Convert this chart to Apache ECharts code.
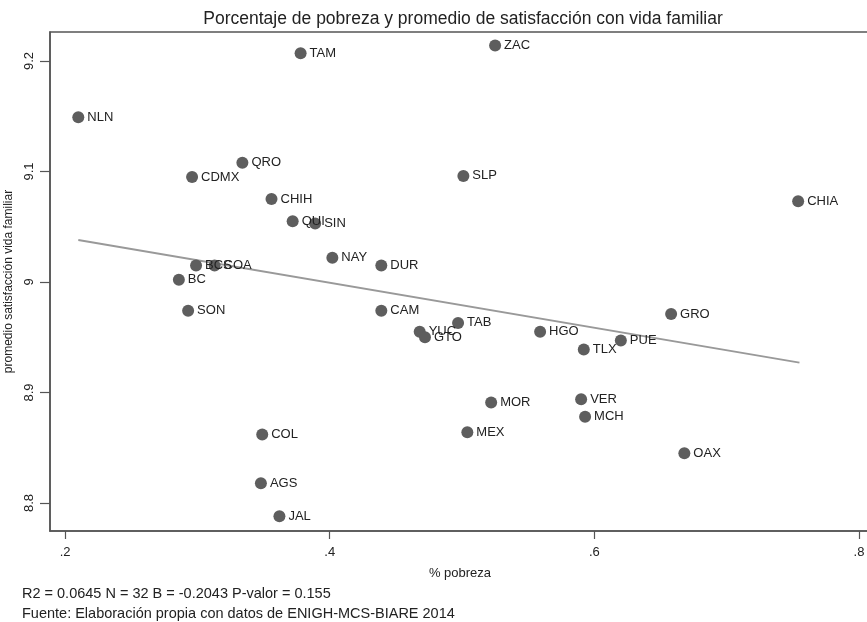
<!DOCTYPE html>
<html><head><meta charset="utf-8">
<script src="https://cdn.jsdelivr.net/npm/echarts@6/dist/echarts.min.js"></script>
<style>html,body{margin:0;padding:0;background:#fff}#c{width:867px;height:622px}</style>
</head><body><div id="c"></div>
<script>
const states = ["NLN","TAM","ZAC","QRO","CDMX","SLP","CHIH","CHIA","QUI","SIN","NAY","DUR","BCS","COA","BC","SON","CAM","YUC","GTO","TAB","HGO","GRO","PUE","TLX","VER","MCH","MOR","MEX","OAX","COL","AGS","JAL"];
const pobreza = [0.210,0.378,0.525,0.334,0.296,0.501,0.356,0.754,0.372,0.389,0.402,0.439,0.299,0.313,0.286,0.293,0.439,0.468,0.472,0.497,0.559,0.658,0.620,0.592,0.590,0.593,0.522,0.504,0.668,0.349,0.348,0.362];
const satisf  = [9.149,9.207,9.214,9.108,9.095,9.096,9.075,9.073,9.055,9.053,9.022,9.015,9.015,9.015,9.002,8.974,8.974,8.955,8.950,8.963,8.955,8.971,8.947,8.939,8.894,8.878,8.891,8.864,8.845,8.862,8.818,8.788];
const fitX = [0.210, 0.755];
const fitY = [9.038, 8.927];
const xTicks = [0.2, 0.4, 0.6, 0.8];
const yTicks = [8.8, 8.9, 9.0, 9.1, 9.2];
const title = "Porcentaje de pobreza y promedio de satisfacción con vida familiar";
const xName = "% pobreza";
const yName = "promedio satisfacción vida familiar";
const note1 = "R2 = 0.0645 N = 32 B = -0.2043 P-valor = 0.155";
const note2 = "Fuente: Elaboración propia con datos de ENIGH-MCS-BIARE 2014";

const F = "Liberation Sans, Arial, Helvetica, sans-serif";
const chart = echarts.init(document.getElementById('c'));
const pts = states.map((s,i)=>({name:s, value:[pobreza[i], satisf[i]]}));
chart.setOption({
  animation:false,
  backgroundColor:'#fff',
  title:{text:title, left:458, textAlign:'center', top:5, textStyle:{fontFamily:F, fontSize:17.5, fontWeight:'normal', color:'#222'}},
  grid:{left:50, top:32, right:-3, bottom:91, show:true, borderColor:'#555', borderWidth:1.5, outerBoundsMode:'none', containLabel:false},
  xAxis:{type:'value', min:0.18862, max:0.8083,
    name:xName, nameLocation:'middle', nameGap:36, nameTextStyle:{fontFamily:F, fontSize:13, color:'#222'},
    splitLine:{show:false},
    axisLine:{show:true, onZero:false, lineStyle:{color:'#555', width:1.5}},
    axisTick:{show:true, length:8, customValues:xTicks, lineStyle:{color:'#555', width:1.2}},
    axisLabel:{customValues:xTicks, margin:15, fontFamily:F, fontSize:13, color:'#222',
      formatter:v=>String(Math.round(v*10)/10).replace(/^0/,'')}},
  yAxis:{type:'value', min:8.7747, max:9.2262,
    name:yName, nameLocation:'middle', nameGap:31, nameTextStyle:{fontFamily:F, fontSize:12, color:'#222'},
    splitLine:{show:false},
    axisLine:{show:true, onZero:false, lineStyle:{color:'#555', width:1.5}},
    axisTick:{show:true, length:10, customValues:yTicks, lineStyle:{color:'#555', width:1.2}},
    axisLabel:{customValues:yTicks, rotate:90, margin:14, fontFamily:F, fontSize:13, color:'#222',
      formatter:v=>String(Math.round(v*10)/10)}},
  series:[
    {type:'line', data:fitX.map((x,i)=>[x,fitY[i]]), symbol:'none', silent:true,
     lineStyle:{color:'#999', width:1.8}, z:1},
    {type:'scatter', data:pts, symbolSize:12, itemStyle:{color:'#5e5e5e', opacity:1}, z:2,
     label:{show:true, position:'right', distance:3, formatter:p=>p.name, fontFamily:F, fontSize:13, color:'#222'}}
  ],
  graphic:[
    {type:'text', left:22, top:586, style:{text:note1, fontFamily:F, fontSize:14.5, fill:'#222'}},
    {type:'text', left:22, top:606, style:{text:note2, fontFamily:F, fontSize:14.5, fill:'#222'}}
  ]
});
</script></body></html>
